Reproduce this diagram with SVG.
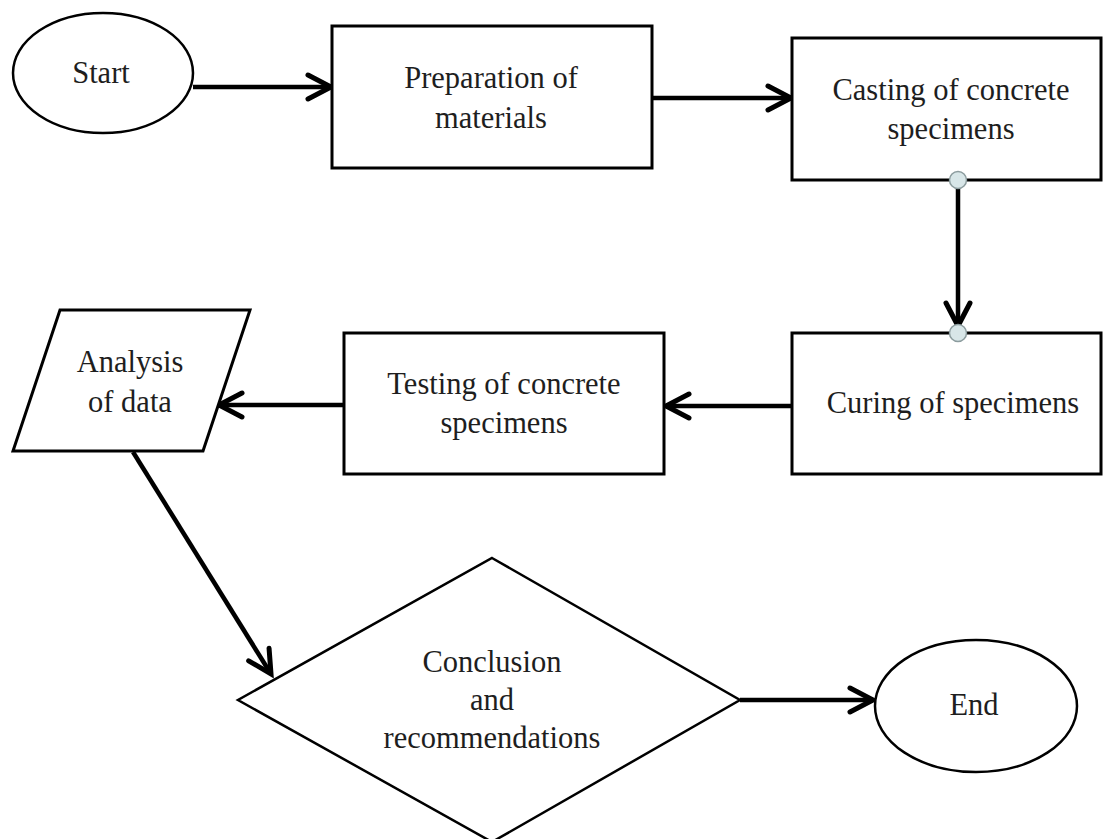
<svg xmlns="http://www.w3.org/2000/svg" width="1103" height="839" viewBox="0 0 1103 839">
<style>
.shape{fill:#fff;stroke:#000;stroke-width:3}
.thin{fill:#fff;stroke:#000;stroke-width:2.5}
.lbl{font-family:"Liberation Serif","Times New Roman",serif;font-size:30.5px;fill:#1e1e1e;text-anchor:middle}
.conn{stroke:#000;stroke-width:4.5;fill:none;marker-end:url(#arr)}
.handle{fill:#d8e6e8;stroke:#8c9c9e;stroke-width:1.5}
</style>
<defs>
<marker id="arr" markerUnits="userSpaceOnUse" markerWidth="34" markerHeight="34" refX="27" refY="16" orient="auto">
<path d="M4,4 L27,16 L4,28" fill="none" stroke="#000" stroke-width="5" stroke-linecap="round" stroke-linejoin="miter"/>
</marker>
</defs>
<rect width="1103" height="839" fill="#fff"/>
<g id="connectors">
<line class="conn" x1="193" y1="87" x2="331" y2="87"/>
<line class="conn" x1="652" y1="98" x2="791" y2="98"/>
<line class="conn" x1="958" y1="188" x2="958" y2="326"/>
<line class="conn" x1="792" y1="406" x2="666" y2="406"/>
<line class="conn" x1="343" y1="405" x2="219" y2="405"/>
<line class="conn" x1="133" y1="452" x2="271" y2="674"/>
<line class="conn" x1="740" y1="700" x2="873" y2="700"/>
</g>
<g id="start">
<ellipse class="thin" cx="103" cy="73" rx="90" ry="60"/>
<text class="lbl" x="101" y="83">Start</text>
</g>
<g id="preparation">
<rect class="shape" x="332" y="26" width="320" height="142"/>
<text class="lbl" x="491" y="88">Preparation of</text>
<text class="lbl" x="491" y="128">materials</text>
</g>
<g id="casting">
<rect class="shape" x="792" y="38" width="309" height="142"/>
<text class="lbl" x="951" y="100">Casting of concrete</text>
<text class="lbl" x="951" y="139">specimens</text>
<circle class="handle" cx="958" cy="180" r="8.5"/>
</g>
<g id="curing">
<rect class="shape" x="792" y="333" width="309" height="141"/>
<text class="lbl" x="953" y="413">Curing of specimens</text>
<circle class="handle" cx="958" cy="333" r="8.5"/>
</g>
<g id="testing">
<rect class="shape" x="344" y="333" width="320" height="141"/>
<text class="lbl" x="504" y="394">Testing of concrete</text>
<text class="lbl" x="504" y="433">specimens</text>
</g>
<g id="analysis">
<polygon class="shape" points="60,310 250,310 203,451 13,451"/>
<text class="lbl" x="130" y="372">Analysis</text>
<text class="lbl" x="130" y="412">of data</text>
</g>
<g id="conclusion">
<polygon class="thin" points="492,558 740,700 492,842 238,700"/>
<text class="lbl" x="492" y="672">Conclusion</text>
<text class="lbl" x="492" y="710">and</text>
<text class="lbl" x="492" y="748">recommendations</text>
</g>
<g id="end">
<ellipse class="thin" cx="976" cy="706" rx="101" ry="66"/>
<text class="lbl" x="974" y="715">End</text>
</g>
</svg>
